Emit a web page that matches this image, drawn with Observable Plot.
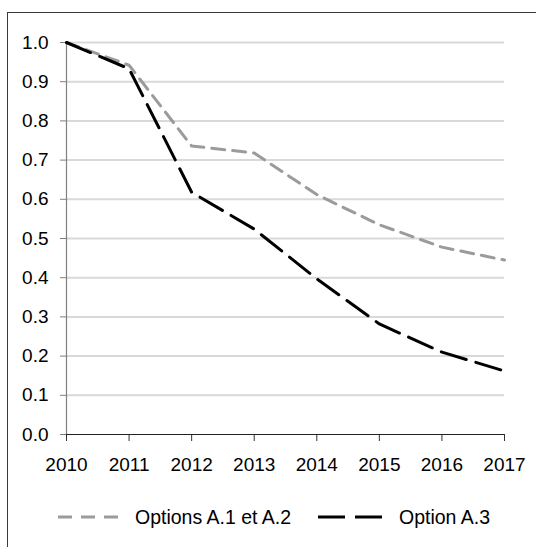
<!DOCTYPE html>
<html>
<head>
<meta charset="utf-8">
<script src="https://cdn.jsdelivr.net/npm/d3@7"></script>
<script src="https://cdn.jsdelivr.net/npm/@observablehq/plot@0.6"></script>
<style>
  html, body { margin: 0; padding: 0; background: #fff; width: 536px; height: 547px; overflow: hidden; }
  #frame { position: absolute; left: 7px; top: 12px; width: 600px; height: 600px; border-left: 1px solid #3a3a3a; border-top: 1px solid #3a3a3a; box-sizing: border-box; }
  #chart { position: absolute; left: 0; top: 0; }
  #legend { position: absolute; left: 0; top: 500px; width: 536px; height: 34px; font-family: "Liberation Sans", Arial, sans-serif; font-size: 19.5px; color: #000; }
  .item { position: absolute; top: 0; height: 34px; display: flex; align-items: center; }
  .item svg { display: block; margin-right: 17px; }
</style>
</head>
<body>
<div id="frame"></div>
<div id="chart"></div>
<div id="legend"></div>
<script>
const years = [2010, 2011, 2012, 2013, 2014, 2015, 2016, 2017];
const seriesNames = ["Options A.1 et A.2", "Option A.3"];
const optionsA1A2 = [1.0, 0.942, 0.736, 0.718, 0.612, 0.535, 0.478, 0.445];
const optionA3 = [1.0, 0.933, 0.618, 0.524, 0.397, 0.282, 0.21, 0.162];
const yTicks = [0, 0.1, 0.2, 0.3, 0.4, 0.5, 0.6, 0.7, 0.8, 0.9, 1.0];

const colors = {"Options A.1 et A.2": "#9b9b9b", "Option A.3": "#000000"};
const dashes = {"Options A.1 et A.2": "13,8", "Option A.3": "26,10"};

const rows = [];
years.forEach((yr, i) => {
  rows.push({year: yr, value: optionsA1A2[i], series: seriesNames[0]});
  rows.push({year: yr, value: optionA3[i], series: seriesNames[1]});
});

const chart = Plot.plot({
  width: 536,
  height: 485,
  marginLeft: 66,
  marginRight: 32,
  marginTop: 42,
  marginBottom: 51,
  style: {fontFamily: "'Liberation Sans', Arial, sans-serif", fontSize: "19px", color: "#000", background: "transparent", overflow: "visible"},
  x: {domain: [2010, 2017]},
  y: {domain: [0, 1]},
  marks: [
    Plot.gridY(yTicks.filter(t => t > 0), {stroke: "#d9d9d9", strokeOpacity: 1, strokeWidth: 2}),
    Plot.axisY({ticks: yTicks, tickFormat: d3.format(".1f"), tickSize: 6, tickPadding: 12, stroke: "#808080", label: null}),
    Plot.axisX({ticks: years, tickFormat: d => String(d), tickSize: 7, tickPadding: 16, stroke: "#333", label: null}),
    Plot.ruleX([2010], {stroke: "#808080", strokeWidth: 1.2}),
    Plot.ruleY([0], {stroke: "#222", strokeWidth: 1.2, x1: 2010, x2: 2017}),
    Plot.line(rows.filter(d => d.series === seriesNames[0]), {x: "year", y: "value", stroke: colors[seriesNames[0]], strokeWidth: 3, strokeDasharray: dashes[seriesNames[0]], strokeLinejoin: "round"}),
    Plot.line(rows.filter(d => d.series === seriesNames[1]), {x: "year", y: "value", stroke: colors[seriesNames[1]], strokeWidth: 3, strokeDasharray: dashes[seriesNames[1]], strokeLinejoin: "round"})
  ]
});
document.getElementById("chart").appendChild(chart);

// legend
const legend = document.getElementById("legend");
const positions = [{left: 58, w: 60}, {left: 318, w: 64}];
seriesNames.forEach((name, i) => {
  const item = document.createElement("div");
  item.className = "item";
  item.style.left = positions[i].left + "px";
  const svg = d3.create("svg").attr("width", positions[i].w).attr("height", 10);
  svg.append("line").attr("x1", 0).attr("x2", positions[i].w).attr("y1", 5).attr("y2", 5)
    .attr("stroke", colors[name]).attr("stroke-width", 3.2).attr("stroke-dasharray", i === 0 ? "14,9" : "27,10");
  item.appendChild(svg.node());
  const span = document.createElement("span");
  span.textContent = name;
  item.appendChild(span);
  legend.appendChild(item);
});
</script>
</body>
</html>
